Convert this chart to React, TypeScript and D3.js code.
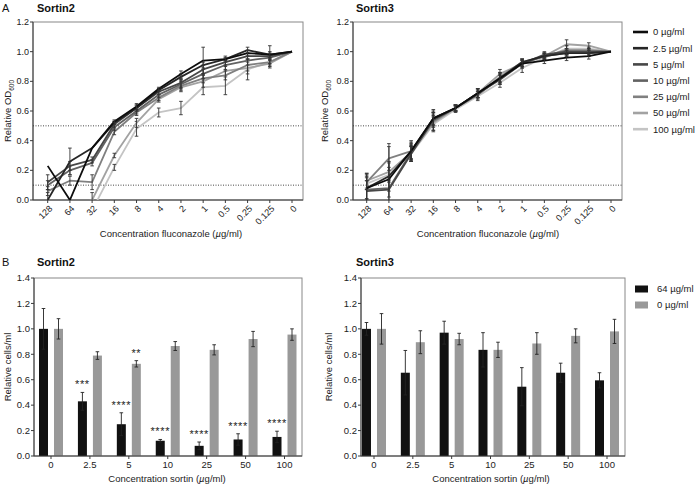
import React from "react";
import * as d3 from "d3";

// ---------- DATA ----------
const concLabels = ["128", "64", "32", "16", "8", "4", "2", "1", "0.5", "0.25", "0.125", "0"];
const sortinLevels = ["0 µg/ml", "2.5 µg/ml", "5 µg/ml", "10 µg/ml", "25 µg/ml", "50 µg/ml", "100 µg/ml"];
const odTicks = [0, 0.2, 0.4, 0.6, 0.8, 1.0, 1.2];
const thresholds = [0.5, 0.1];

const sortin2OD = [
  [0.23, 0.0, 0.35, 0.53, 0.63, 0.75, 0.85, 0.94, 0.95, 0.99, 0.98, 1.0],
  [0.0, 0.26, 0.35, 0.52, 0.62, 0.74, 0.83, 0.91, 0.95, 1.01, 0.98, 1.0],
  [0.12, 0.23, 0.27, 0.51, 0.62, 0.73, 0.79, 0.88, 0.93, 0.97, 0.97, 1.0],
  [0.1, 0.2, 0.25, 0.49, 0.6, 0.71, 0.78, 0.85, 0.91, 0.94, 0.96, 1.0],
  [0.06, 0.13, 0.12, 0.46, 0.59, 0.69, 0.77, 0.82, 0.84, 0.91, 0.93, 1.0],
  [-0.1, -0.05, 0.0, 0.3, 0.52, 0.68, 0.76, 0.8, 0.87, 0.89, 0.92, 1.0],
  [-0.2, -0.15, -0.07, 0.22, 0.48, 0.59, 0.62, 0.76, 0.77, 0.88, 0.93, 1.0],
];
const sortin2Err = [
  [0, 0, 0, 0.01, 0.02, 0.01, 0.02, 0.09, 0.01, 0.02, 0.06, 0],
  [0.05, 0.09, 0, 0.01, 0.02, 0.01, 0.02, 0.02, 0.02, 0.02, 0.02, 0],
  [0.05, 0.03, 0.02, 0.02, 0.02, 0.02, 0.03, 0.03, 0.02, 0.02, 0.02, 0],
  [0.03, 0.03, 0.02, 0.02, 0.02, 0.02, 0.03, 0.03, 0.03, 0.03, 0.02, 0],
  [0.03, 0.03, 0.05, 0.02, 0.02, 0.02, 0.03, 0.03, 0.03, 0.04, 0.02, 0],
  [0, 0, 0.05, 0.015, 0.03, 0.02, 0.03, 0.04, 0.03, 0.04, 0.03, 0],
  [0, 0, 0, 0.02, 0.05, 0.03, 0.045, 0.05, 0.06, 0.07, 0.03, 0],
];
const sortin3OD = [
  [0.08, 0.14, 0.33, 0.55, 0.62, 0.72, 0.82, 0.92, 0.94, 0.96, 0.97, 1.0],
  [0.08, 0.16, 0.33, 0.55, 0.62, 0.72, 0.82, 0.93, 0.97, 0.99, 0.99, 1.0],
  [0.06, 0.07, 0.31, 0.54, 0.62, 0.72, 0.81, 0.92, 0.98, 1.0, 1.0, 1.0],
  [0.07, 0.08, 0.32, 0.55, 0.62, 0.71, 0.82, 0.92, 0.97, 0.99, 0.99, 1.0],
  [0.12, 0.28, 0.33, 0.53, 0.62, 0.71, 0.83, 0.93, 0.97, 1.01, 1.01, 1.0],
  [0.13, 0.19, 0.32, 0.52, 0.62, 0.72, 0.85, 0.92, 0.97, 1.05, 1.04, 1.0],
  [0.11, 0.17, 0.31, 0.51, 0.61, 0.7, 0.79, 0.89, 0.96, 1.02, 1.02, 1.0],
];
const sortin3Err = [
  [0.1, 0.24, 0.06, 0.06, 0.02, 0.03, 0.04, 0.03, 0.02, 0.02, 0.02, 0],
  [0.08, 0.1, 0.05, 0.05, 0.02, 0.03, 0.03, 0.02, 0.02, 0.02, 0.02, 0],
  [0.07, 0.08, 0.05, 0.04, 0.02, 0.03, 0.03, 0.02, 0.02, 0.02, 0.02, 0],
  [0.06, 0.06, 0.05, 0.04, 0.02, 0.02, 0.03, 0.02, 0.02, 0.02, 0.02, 0],
  [0.05, 0.08, 0.07, 0.06, 0.02, 0.03, 0.03, 0.02, 0.02, 0.03, 0.02, 0],
  [0.05, 0.06, 0.05, 0.05, 0.02, 0.03, 0.03, 0.03, 0.02, 0.03, 0.02, 0],
  [0.04, 0.05, 0.05, 0.05, 0.02, 0.03, 0.03, 0.03, 0.02, 0.02, 0.02, 0],
];

const barCats = ["0", "2.5", "5", "10", "25", "50", "100"];
const barSeries = ["64 µg/ml", "0 µg/ml"];
const cellTicks = [0, 0.2, 0.4, 0.6, 0.8, 1.0, 1.2, 1.4];

const s2Cells64 = [1.0, 0.43, 0.25, 0.12, 0.08, 0.13, 0.15];
const s2Cells64Err = [0.16, 0.07, 0.09, 0.01, 0.03, 0.045, 0.045];
const s2Cells0 = [1.0, 0.79, 0.725, 0.865, 0.835, 0.92, 0.955];
const s2Cells0Err = [0.08, 0.03, 0.025, 0.035, 0.04, 0.06, 0.045];
const s2Stars64 = ["", "***", "****", "****", "****", "****", "****"];
const s2Stars0 = ["", "", "**", "", "", "", ""];

const s3Cells64 = [1.0, 0.655, 0.97, 0.835, 0.545, 0.655, 0.595];
const s3Cells64Err = [0.05, 0.175, 0.09, 0.135, 0.15, 0.075, 0.06];
const s3Cells0 = [1.0, 0.895, 0.92, 0.835, 0.885, 0.945, 0.98];
const s3Cells0Err = [0.12, 0.09, 0.045, 0.06, 0.085, 0.055, 0.095];

// ---------- STYLE ----------
const FONT = "'Liberation Sans', Arial, Helvetica, sans-serif";
const lineColors = ["#0d0d0d", "#262626", "#474747", "#626262", "#808080", "#a2a2a2", "#c4c4c4"];
const barColors = ["#111111", "#999999"];
const AXIS = "#3a3a3a";

type LineProps = {
  id: string;
  left: number; right: number; top: number; bottom: number;
  first: number; last: number;
  title: string; titleX: number;
  yLabelX: number; xTitleX: number;
  values: number[][]; errs: number[][];
};

function LinePanel(p: LineProps) {
  const x = d3.scalePoint<string>().domain(concLabels).range([p.first, p.last]);
  const y = d3.scaleLinear().domain([0, 1.2]).range([p.bottom, p.top]);
  const line = d3.line<number>().x((_, i) => x(concLabels[i])!).y((v) => y(v));
  const order = d3.range(sortinLevels.length).reverse();
  return (
    <g fontFamily={FONT}>
      <defs>
        <clipPath id={p.id}>
          <rect x={p.left} y={p.top - 10} width={p.right - p.left} height={p.bottom - p.top + 10} />
        </clipPath>
      </defs>
      <text x={p.titleX} y={12} fontSize={11} fontWeight="bold" fill="#111">{p.title}</text>
      <rect x={p.left} y={p.top} width={p.right - p.left} height={p.bottom - p.top} fill="none" stroke="#888" strokeWidth={1} />
      <line x1={p.left} x2={p.left} y1={p.top} y2={p.bottom} stroke={AXIS} />
      <line x1={p.left} x2={p.right} y1={p.bottom} y2={p.bottom} stroke={AXIS} />
      {odTicks.map((t) => (
        <g key={t}>
          <line x1={p.left - 3} x2={p.left} y1={y(t)} y2={y(t)} stroke={AXIS} />
          <text x={p.left - 4} y={y(t)} dy="0.35em" fontSize={9} textAnchor="end" fill="#222">{t.toFixed(1)}</text>
        </g>
      ))}
      {concLabels.map((c) => (
        <g key={c}>
          <line x1={x(c)} x2={x(c)} y1={p.bottom} y2={p.bottom + 3} stroke={AXIS} />
          <text transform={`translate(${x(c)! + 3},${p.bottom + 7}) rotate(-45)`} fontSize={9} textAnchor="end" dy="0.35em" fill="#222">{c}</text>
        </g>
      ))}
      {thresholds.map((t) => (
        <line key={t} x1={p.left} x2={p.right} y1={y(t)} y2={y(t)} stroke="#333" strokeWidth={0.9} strokeDasharray="1,1.5" />
      ))}
      <g clipPath={`url(#${p.id})`}>
        {order.map((s) => (
          <g key={s}>
            <path d={line(p.values[s]) || ""} fill="none" stroke={lineColors[s]} strokeWidth={1.8} strokeLinejoin="round" />
            {p.values[s].map((v, i) =>
              p.errs[s][i] > 0 ? (
                <g key={i} stroke="#333" strokeWidth={0.9}>
                  <line x1={x(concLabels[i])} x2={x(concLabels[i])} y1={y(v - p.errs[s][i])} y2={y(v + p.errs[s][i])} />
                  <line x1={x(concLabels[i])! - 1.8} x2={x(concLabels[i])! + 1.8} y1={y(v - p.errs[s][i])} y2={y(v - p.errs[s][i])} />
                  <line x1={x(concLabels[i])! - 1.8} x2={x(concLabels[i])! + 1.8} y1={y(v + p.errs[s][i])} y2={y(v + p.errs[s][i])} />
                </g>
              ) : null
            )}
          </g>
        ))}
      </g>
      <text transform={`translate(${p.yLabelX},${(p.top + p.bottom) / 2}) rotate(-90)`} fontSize={9.5} textAnchor="middle" fill="#222">
        Relative OD<tspan fontSize={6.5} dy={2.5}>600</tspan>
      </text>
      <text x={p.xTitleX} y={237} fontSize={9.5} textAnchor="middle" fill="#222">
        Concentration fluconazole (<tspan fontStyle="italic">µ</tspan>g/ml)
      </text>
    </g>
  );
}

type BarProps = {
  left: number; right: number; top: number; bottom: number;
  first: number; last: number;
  title: string; titleX: number;
  yLabelX: number; xTitleX: number;
  v64: number[]; e64: number[]; v0: number[]; e0: number[];
  stars64?: string[]; stars0?: string[];
};

function BarPanel(p: BarProps) {
  const xc = d3.scalePoint<string>().domain(barCats).range([p.first, p.last]);
  const sub = d3.scaleBand<string>().domain(barSeries).range([-12, 12]).paddingInner(0.4);
  const y = d3.scaleLinear().domain([0, 1.4]).range([p.bottom, p.top]);
  const bw = sub.bandwidth();
  const sets = [
    { vals: p.v64, errs: p.e64, stars: p.stars64 },
    { vals: p.v0, errs: p.e0, stars: p.stars0 },
  ];
  return (
    <g fontFamily={FONT}>
      <text x={p.titleX} y={266} fontSize={11} fontWeight="bold" fill="#111">{p.title}</text>
      <rect x={p.left} y={p.top} width={p.right - p.left} height={p.bottom - p.top} fill="none" stroke="#888" strokeWidth={1} />
      {sets.map((s, si) =>
        s.vals.map((v, i) => {
          const bx = xc(barCats[i])! + sub(barSeries[si])!;
          const cx = bx + bw / 2;
          const e = s.errs[i];
          return (
            <g key={`${si}-${i}`}>
              <rect x={bx} y={y(v)} width={bw} height={y(0) - y(v)} fill={barColors[si]} />
              <g stroke="#222" strokeWidth={0.9}>
                <line x1={cx} x2={cx} y1={y(v - e)} y2={y(v + e)} />
                <line x1={cx - 1.8} x2={cx + 1.8} y1={y(v + e)} y2={y(v + e)} />
                <line x1={cx - 1.8} x2={cx + 1.8} y1={y(v - e)} y2={y(v - e)} />
              </g>
              {s.stars && s.stars[i] ? (
                <text x={cx} y={y(v + e) - 4} fontSize={11} textAnchor="middle" fill="#222" letterSpacing={0.6}>{s.stars[i]}</text>
              ) : null}
            </g>
          );
        })
      )}
      <line x1={p.left} x2={p.left} y1={p.top} y2={p.bottom} stroke={AXIS} />
      <line x1={p.left} x2={p.right} y1={p.bottom} y2={p.bottom} stroke={AXIS} />
      {cellTicks.map((t) => (
        <g key={t}>
          <line x1={p.left - 3} x2={p.left} y1={y(t)} y2={y(t)} stroke={AXIS} />
          <text x={p.left - 4} y={y(t)} dy="0.35em" fontSize={9.5} textAnchor="end" fill="#222">{t.toFixed(1)}</text>
        </g>
      ))}
      {barCats.map((c) => (
        <g key={c}>
          <line x1={xc(c)} x2={xc(c)} y1={p.bottom} y2={p.bottom + 3} stroke={AXIS} />
          <text x={xc(c)} y={p.bottom + 12} fontSize={9.5} textAnchor="middle" fill="#222">{c}</text>
        </g>
      ))}
      <text transform={`translate(${p.yLabelX},${(p.top + p.bottom) / 2}) rotate(-90)`} fontSize={9.5} textAnchor="middle" fill="#222">
        Relative cells/ml
      </text>
      <text x={p.xTitleX} y={482} fontSize={9.5} textAnchor="middle" fill="#222">
        Concentration sortin (<tspan fontStyle="italic">µ</tspan>g/ml)
      </text>
    </g>
  );
}

export default function App() {
  return (
    <svg width={696} height={485} style={{ position: "absolute", left: 0, top: 0, background: "#fff" }}>
      <rect width={696} height={485} fill="#fff" />
      <text x={2} y={12} fontSize={11} fontFamily={FONT} fill="#111">A</text>
      <text x={2} y={266} fontSize={11} fontFamily={FONT} fill="#111">B</text>

      <LinePanel id="clipS2" left={33} right={303} top={22} bottom={200} first={47.7} last={292}
        title="Sortin2" titleX={37} yLabelX={11} xTitleX={171} values={sortin2OD} errs={sortin2Err} />
      <LinePanel id="clipS3" left={353} right={622} top={22} bottom={200} first={366.7} last={611}
        title="Sortin3" titleX={356} yLabelX={328} xTitleX={488} values={sortin3OD} errs={sortin3Err} />

      {/* top legend */}
      <g fontFamily={FONT}>
        {sortinLevels.map((lab, i) => (
          <g key={lab}>
            <line x1={633} x2={648} y1={32 + i * 16.2} y2={32 + i * 16.2} stroke={lineColors[i]} strokeWidth={2.6} />
            <text x={653} y={32 + i * 16.2} dy="0.35em" fontSize={9.5} fill="#222">{lab}</text>
          </g>
        ))}
      </g>

      <BarPanel left={34} right={302} top={278} bottom={456} first={51} last={284.5}
        title="Sortin2" titleX={37} yLabelX={11} xTitleX={167}
        v64={s2Cells64} e64={s2Cells64Err} v0={s2Cells0} e0={s2Cells0Err}
        stars64={s2Stars64} stars0={s2Stars0} />
      <BarPanel left={361} right={625} top={278} bottom={456} first={374} last={607}
        title="Sortin3" titleX={356} yLabelX={332} xTitleX={491}
        v64={s3Cells64} e64={s3Cells64Err} v0={s3Cells0} e0={s3Cells0Err} />

      {/* bottom legend */}
      <g fontFamily={FONT}>
        {barSeries.map((lab, i) => (
          <g key={lab}>
            <rect x={635} y={285.5 + i * 16} width={13} height={7} fill={barColors[i]} />
            <text x={657} y={289 + i * 16} dy="0.35em" fontSize={9.5} fill="#222">{lab}</text>
          </g>
        ))}
      </g>
    </svg>
  );
}
